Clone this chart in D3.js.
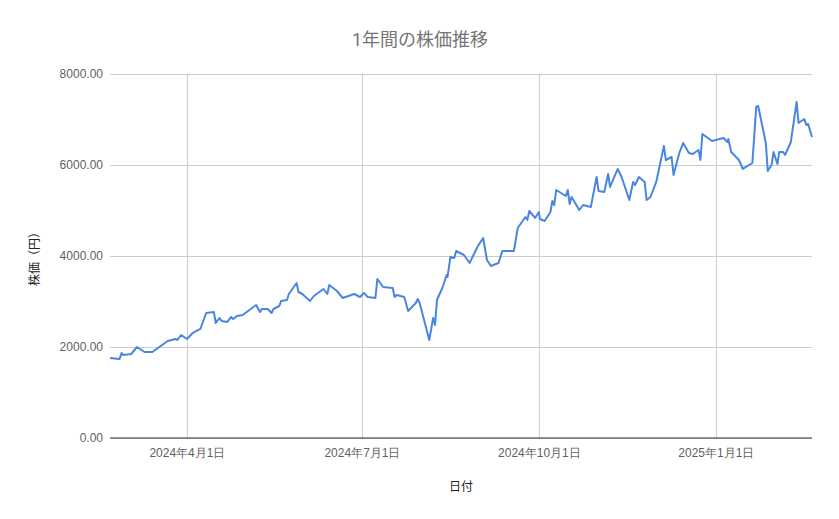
<!DOCTYPE html>
<html><head><meta charset="utf-8">
<script src="https://cdn.jsdelivr.net/npm/d3@7"></script>
<style>body{margin:0;background:#fff;font-family:Roboto,"Noto Sans CJK JP",sans-serif}</style>
</head><body><svg id="c" width="839" height="519"></svg>
<script>
const startDate = "2024-02-21";
const dayOffsets = [0,5,6,7,11,14,18,22,30,34,35,37,40,43,47,50,54,55,57,58,61,63,64,66,69,76,78,79,82,84,85,88,89,92,93,97,98,100,104,106,111,113,114,118,121,127,130,132,134,138,139,142,147,148,149,153,155,159,160,161,166,168,169,170,173,175,175.5,177,179,180,184,187,191,194,196,198,202,204,210,212,216,217,218,221,223,223.5,226,229,230,231,232,237,238,239,240,244,246,250,253,254,257,259,260,264,266,270,272,273,275,278,279,281,284,288,289,292,293,296,298,301,303,306,307,308,313,319,321,321.5,323,327,329,334,336,337,341,342,344,345,347,348,350,351,354,357,358,361,362,363,365];
const prices = [1758,1736,1868,1824,1846,2000,1890,1890,2132,2176,2154,2264,2176,2308,2396,2748,2769,2528,2638,2572,2550,2660,2616,2682,2704,2923,2769,2835,2835,2748,2835,2901,3011,3033,3165,3407,3209,3165,3011,3121,3275,3165,3363,3231,3077,3165,3099,3187,3099,3077,3495,3319,3297,3099,3143,3099,2791,2967,3055,2967,2154,2638,2484,3033,3319,3583,3539,3978,3956,4110,4022,3847,4198,4396,3912,3781,3847,4110,4110,4616,4858,4792,4989,4836,4967,4814,4770,4967,5209,5121,5451,5319,5451,5143,5297,5011,5121,5077,5737,5429,5407,5803,5517,5913,5737,5231,5627,5561,5737,5627,5231,5297,5627,6418,6110,6176,5781,6264,6484,6264,6242,6330,6110,6682,6528,6594,6506,6572,6286,6110,5913,6044,7275,7297,6484,5869,6000,6286,6022,6286,6286,6220,6506,7385,6924,7012,6880,6902,6616];
const yTicks = [0,2000,4000,6000,8000];
const xTickDates = ["2024-04-01","2024-07-01","2024-10-01","2025-01-01"];
const title = "1年間の株価推移", xTitle = "日付", yTitle = "株価（円）";

const parse = d3.timeParse("%Y-%m-%d");
const s0 = parse(startDate);
const data = dayOffsets.map((d,i)=>({date:new Date(s0.getTime()+d*86400000), v:prices[i]}));
const svg = d3.select("#c");
const L=110,R=812,T=74,B=438;
const x = d3.scaleTime().domain([s0,new Date(s0.getTime()+365*86400000)]).range([L,R]);
const y = d3.scaleLinear().domain([0,8000]).range([B,T]);

svg.append("text").attr("x",420).attr("y",46).attr("text-anchor","middle").attr("fill","#757575").attr("font-size",18).text(title);
const gy = svg.append("g").attr("transform",`translate(${L},0)`)
  .call(d3.axisLeft(y).tickValues(yTicks).tickSize(-(R-L)).tickFormat(d3.format(".2f")));
gy.select(".domain").remove();
gy.selectAll("line").attr("stroke","#cccccc");
gy.selectAll("text").attr("fill","#5f5f5f").attr("font-size",12).attr("x",-7);
const gx = svg.append("g").attr("transform",`translate(0,${B})`)
  .call(d3.axisBottom(x).tickValues(xTickDates.map(parse)).tickSize(-(B-T)).tickFormat(d=>`${d.getFullYear()}年${d.getMonth()+1}月${d.getDate()}日`));
gx.select(".domain").remove();
gx.selectAll("line").attr("stroke","#cccccc");
gx.selectAll("text").attr("fill","#5f5f5f").attr("font-size",12).attr("dy","1.35em");
svg.append("line").attr("x1",L).attr("x2",R).attr("y1",B).attr("y2",B).attr("stroke","#333");

svg.append("path").datum(data).attr("fill","none").attr("stroke","#4a86e0").attr("stroke-width",2).attr("stroke-linejoin","round")
  .attr("d",d3.line().x(d=>x(d.date)).y(d=>y(d.v)));

svg.append("text").attr("x",461).attr("y",491).attr("text-anchor","middle").attr("fill","#222").attr("font-size",12).text(xTitle);
svg.append("text").attr("transform","translate(39,256) rotate(-90)").attr("text-anchor","middle").attr("fill","#222").attr("font-size",12).text(yTitle);
</script></body></html>
